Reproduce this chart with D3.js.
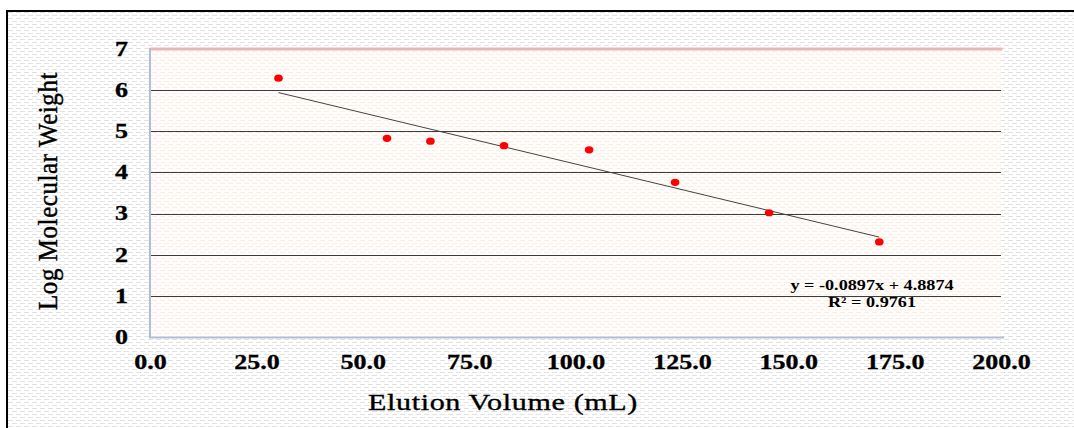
<!DOCTYPE html>
<html>
<head>
<meta charset="utf-8">
<script src="https://cdn.jsdelivr.net/npm/d3@7"></script>
<style>
  html, body { margin: 0; padding: 0; background: #fff; }
  svg { display: block; }
  text { font-family: "Liberation Serif", "Times New Roman", serif; fill: #000; }
</style>
</head>
<body>
<div id="chart"></div>
<script>
// data
const elutionVolume = [30.2, 55.7, 65.9, 83.2, 103.2, 123.4, 145.5, 171.4];
const logMW = [6.29, 4.83, 4.76, 4.65, 4.55, 3.76, 3.02, 2.31];
const xTicks = [0, 25, 50, 75, 100, 125, 150, 175, 200];
const yTicks = [0, 1, 2, 3, 4, 5, 6, 7];
const eqLabel = 'y = -0.0897x + 4.8874';
const r2Label = 'R² = 0.9761';

const width = 1074, height = 428;
const plot = { left: 150, top: 49, right: 1001, bottom: 337 };
const sx = 1.3; // reference text is stretched sideways

const svg = d3.select('#chart').append('svg')
    .attr('width', width)
    .attr('height', height);

const defs = svg.append('defs');

// light dashed texture for the chart area
function texture(id, bg, dash) {
    const p = defs.append('pattern')
        .attr('id', id).attr('patternUnits', 'userSpaceOnUse')
        .attr('width', 8).attr('height', 6);
    p.append('rect').attr('width', 8).attr('height', 6).attr('fill', bg);
    p.append('rect').attr('x', 0).attr('y', 0).attr('width', 5).attr('height', 1).attr('fill', dash);
    p.append('rect').attr('x', 4).attr('y', 3).attr('width', 4).attr('height', 1).attr('fill', dash);
    p.append('rect').attr('x', 0).attr('y', 3).attr('width', 1).attr('height', 1).attr('fill', dash);
}
texture('outerTex', '#fff', '#e2e2e2');
texture('innerTex', '#fffdfb', '#fdeee2');

const rightGrad = defs.append('linearGradient')
    .attr('id', 'rightGrad').attr('x1', 0).attr('y1', 0).attr('x2', 0).attr('y2', 1);
rightGrad.append('stop').attr('offset', '0%').attr('stop-color', '#e6b9b8');
rightGrad.append('stop').attr('offset', '55%').attr('stop-color', '#e2c4cc');
rightGrad.append('stop').attr('offset', '100%').attr('stop-color', '#c3cde6');

// chart area with its frame (only left and top edges show in the picture)
svg.append('rect')
    .attr('x', 7).attr('y', 11)
    .attr('width', width + 20).attr('height', height + 20)
    .attr('fill', 'url(#outerTex)')
    .attr('stroke', '#000').attr('stroke-width', 2);

const x = d3.scaleLinear().domain([0, 200]).range([plot.left, plot.right]);
const y = d3.scaleLinear().domain([0, 7]).range([plot.bottom, plot.top]);

// plot area
svg.append('rect')
    .attr('x', plot.left).attr('y', plot.top)
    .attr('width', plot.right - plot.left).attr('height', plot.bottom - plot.top)
    .attr('fill', 'url(#innerTex)');

// gridlines
svg.append('g')
    .selectAll('line')
    .data(yTicks.filter(d => d > 0 && d < 7))
    .enter()
    .append('line')
    .attr('x1', plot.left).attr('x2', plot.right)
    .attr('y1', d => Math.round(y(d)) + 0.5).attr('y2', d => Math.round(y(d)) + 0.5)
    .attr('stroke', '#3c3c3c').attr('stroke-width', 1);

// plot border
svg.append('line')
    .attr('x1', plot.left).attr('x2', plot.right + 1.5)
    .attr('y1', plot.top).attr('y2', plot.top)
    .attr('stroke', '#e6b9b8').attr('stroke-width', 3);
svg.append('line')
    .attr('x1', plot.right + 1.5).attr('x2', plot.right + 1.5)
    .attr('y1', plot.top - 1.5).attr('y2', plot.bottom + 1)
    .attr('stroke', 'url(#rightGrad)').attr('stroke-width', 3);
svg.append('line')
    .attr('x1', plot.left).attr('x2', plot.left)
    .attr('y1', plot.top - 1).attr('y2', plot.bottom + 1)
    .attr('stroke', '#b3bdd6').attr('stroke-width', 2);
svg.append('line')
    .attr('x1', plot.left - 1).attr('x2', plot.right + 3)
    .attr('y1', plot.bottom + 0.5).attr('y2', plot.bottom + 0.5)
    .attr('stroke', '#b3bdd6').attr('stroke-width', 2);

// axes
const yAxis = svg.append('g')
    .attr('transform', `translate(${plot.left},0)`)
    .call(d3.axisLeft(y).tickValues(yTicks).tickFormat(d3.format('d')).tickSize(0));
yAxis.select('.domain').remove();
yAxis.selectAll('text')
    .attr('x', -22 / sx)
    .attr('transform', `scale(${sx},1)`)
    .style('font-family', '"Liberation Serif", serif')
    .style('font-weight', 'bold')
    .style('font-size', '20px')
    .attr('fill', '#000')
    .attr('stroke', '#000').attr('stroke-width', 0.3);

const xAxis = svg.append('g')
    .attr('transform', `translate(0,${plot.bottom})`)
    .call(d3.axisBottom(x).tickValues(xTicks).tickFormat(d3.format('.1f')).tickSize(0));
xAxis.select('.domain').remove();
xAxis.selectAll('text')
    .attr('y', 32)
    .attr('dy', null)
    .attr('transform', `scale(${sx},1)`)
    .attr('x', 0)
    .style('font-family', '"Liberation Serif", serif')
    .style('font-weight', 'bold')
    .style('font-size', '20px')
    .attr('fill', '#000')
    .attr('stroke', '#000').attr('stroke-width', 0.3);

// axis titles
svg.append('text')
    .attr('transform', `translate(${(368 + 638) / 2},410)`)
    .attr('text-anchor', 'middle')
    .attr('textLength', 270)
    .attr('lengthAdjust', 'spacingAndGlyphs')
    .attr('stroke', '#000').attr('stroke-width', 0.35)
    .style('font-size', '24px')
    .style('letter-spacing', '0.5px')
    .text('Elution Volume (mL)');

svg.append('text')
    .attr('transform', `translate(57,191) rotate(-90) scale(1,1.35)`)
    .attr('text-anchor', 'middle')
    .attr('textLength', 238)
    .attr('lengthAdjust', 'spacingAndGlyphs')
    .attr('stroke', '#000').attr('stroke-width', 0.3)
    .style('font-size', '20px')
    .style('letter-spacing', '0.5px')
    .text('Log Molecular Weight');

// linear trendline fitted to the points
const n = elutionVolume.length;
const mx = d3.mean(elutionVolume), my = d3.mean(logMW);
let sxy = 0, sxx = 0;
for (let i = 0; i < n; i++) {
    sxy += (elutionVolume[i] - mx) * (logMW[i] - my);
    sxx += (elutionVolume[i] - mx) ** 2;
}
const slope = sxy / sxx, icpt = my - slope * mx;
const xr = d3.extent(elutionVolume);
svg.append('line')
    .attr('x1', x(xr[0])).attr('y1', y(icpt + slope * xr[0]))
    .attr('x2', x(xr[1])).attr('y2', y(icpt + slope * xr[1]))
    .attr('stroke', '#444').attr('stroke-width', 1);

// points
svg.append('g')
    .selectAll('ellipse')
    .data(elutionVolume.map((v, i) => ({ v, w: logMW[i] })))
    .enter()
    .append('ellipse')
    .attr('cx', d => x(d.v))
    .attr('cy', d => y(d.w))
    .attr('rx', 4.3)
    .attr('ry', 3.6)
    .attr('fill', '#ff0000');

// trendline label
const lab = svg.append('g').attr('transform', 'translate(872,0)');
[eqLabel, r2Label].forEach((t, i) => {
    lab.append('text')
        .attr('y', 290 + i * 17)
        .attr('text-anchor', 'middle')
        .attr('transform', `scale(${sx},1)`)
        .style('font-weight', 'bold')
        .style('font-size', '14px')
        .text(t);
});
</script>
</body>
</html>
